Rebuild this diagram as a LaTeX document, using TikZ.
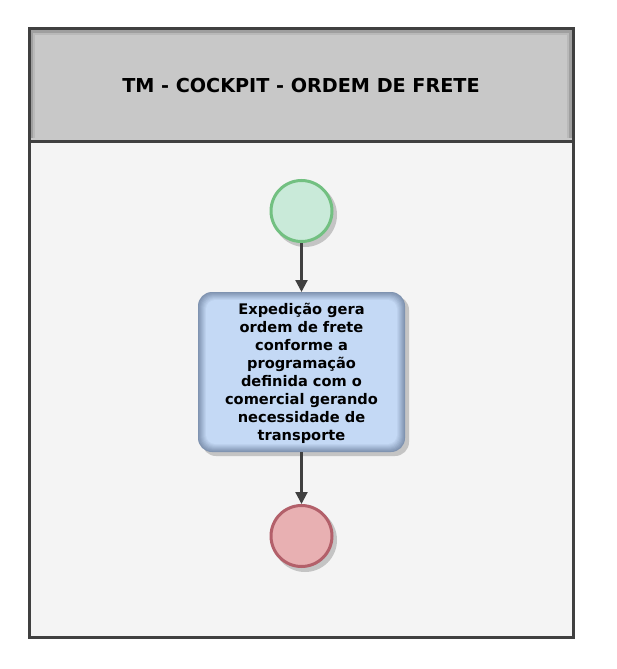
\documentclass[tikz,border=0pt]{standalone}
\usepackage{fontspec}
\setmainfont{DejaVu Sans}
\usetikzlibrary{arrows.meta}
\definecolor{frame}{HTML}{404040}
\definecolor{headfill}{HTML}{C8C8C8}
\definecolor{poolfill}{HTML}{F4F4F4}
\definecolor{startfill}{HTML}{C9EAD9}
\definecolor{startline}{HTML}{72C081}
\definecolor{endfill}{HTML}{E8B0B2}
\definecolor{endline}{HTML}{B3606A}
\definecolor{taskedge}{HTML}{7F93B0}
\definecolor{taskfill}{HTML}{C4D9F5}
\definecolor{shadowc}{HTML}{C4C4C4}
\definecolor{arrowc}{HTML}{404040}
\tikzset{
  evshadow/.style={circle, minimum size=64pt, inner sep=0pt, fill=shadowc},
  startev/.style={circle, minimum size=61pt, inner sep=0pt, fill=startfill, draw=startline, line width=3pt},
  endev/.style={circle, minimum size=61pt, inner sep=0pt, fill=endfill, draw=endline, line width=3pt},
  flow/.style={draw=arrowc, line width=2.2pt, -{Triangle[length=12pt,width=12pt]}},
  tasktext/.style={align=center, font=\bfseries\fontsize{14.6}{18}\selectfont, text=black},
  titletext/.style={font=\bfseries\fontsize{19.2}{22}\selectfont, text=black},
}
\begin{document}
\begin{tikzpicture}[x=1pt,y=-1pt]
\useasboundingbox (0,0) rectangle (616,669);
% pool
\fill[poolfill] (29,29) rectangle (573,637);
\fill[headfill] (29,29) rectangle (573,141);
% header bevel
\draw[line width=3pt, gray!75] (31.5,138) -- (31.5,31.5) -- (570.5,31.5) -- (570.5,138);
\draw[line width=2pt, gray!55] (34,138) -- (34,34) -- (568,34) -- (568,138);
\draw[frame, line width=3pt] (29,29) rectangle (573,637);
\draw[frame, line width=3pt] (29,141) -- (573,141);
\node[titletext] (title) at (301,86) {TM - COCKPIT - ORDEM DE FRETE};
% start event
\node[evshadow] at (305,215) {};
\node[startev] (start) at (301.5,211) {};
% task
\fill[shadowc, rounded corners=14pt] (202,296) rectangle (409,456);
\foreach \i in {0,...,8}{
  \pgfmathsetmacro{\p}{\i*12.5}
  \pgfmathsetmacro{\r}{14-\i*0.6}
  \fill[taskfill!\p!taskedge, rounded corners=\r pt] (198+\i,292+\i) rectangle (405-\i,452-\i);
}
\node[tasktext] (taskt) at (301.5,373) {Expedição gera\\ordem de frete\\conforme a\\programação\\definida com o\\comercial gerando\\necessidade de\\transporte};
\coordinate (tasktop) at (301.5,292);
\coordinate (taskbot) at (301.5,452);
% end event
\node[evshadow] at (305,540) {};
\node[endev] (end) at (301.5,536) {};
% flows
\draw[flow] (start.south) -- (tasktop);
\draw[flow] (taskbot) -- (end.north);
\end{tikzpicture}
\end{document}
